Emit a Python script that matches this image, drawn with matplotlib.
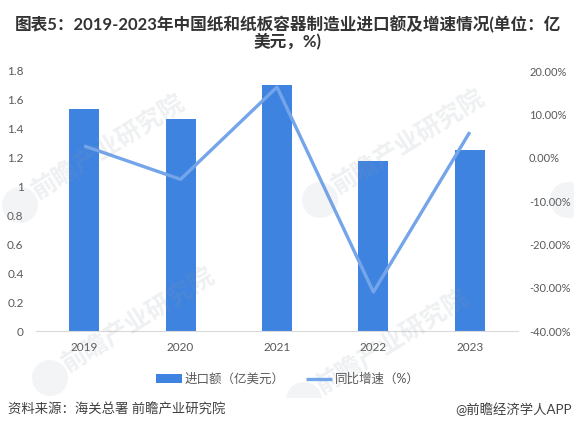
import matplotlib
matplotlib.use("Agg")
import matplotlib.pyplot as plt
from matplotlib.patches import Circle, Rectangle
from matplotlib.transforms import IdentityTransform

plt.rcParams['font.family'] = ['Lato', 'Noto Sans CJK SC', 'DejaVu Sans']

years = ["2019", "2020", "2021", "2022", "2023"]
imports = [1.54, 1.47, 1.70, 1.18, 1.25]
growth = [2.7, -5.0, 16.3, -31.0, 5.9]
left_ticks = [0, 0.2, 0.4, 0.6, 0.8, 1, 1.2, 1.4, 1.6, 1.8]
right_ticks = [-40, -30, -20, -10, 0, 10, 20]

W, H = 574, 430
fig = plt.figure(figsize=(W/100, H/100), dpi=100)
ax = fig.add_axes([36/W, 1-331/H, 482/W, 260/H])
ax2 = ax.twinx()

bars = ax.bar(years, imports, width=0.31, color="#3f83e0", label="进口额（亿美元）")
line, = ax2.plot(years, growth, color="#74a5ea", lw=2.4, label="同比增速（%）", solid_capstyle="butt")

ax.set_xlim(-0.5, 4.5)
ax.set_ylim(0, 1.8)
ax2.set_ylim(-40, 20)
ax.set_yticks(left_ticks)
ax.set_yticklabels([str(t) for t in left_ticks])
ax2.set_yticks(right_ticks)
ax2.set_yticklabels(["%.2f%%" % t for t in right_ticks])

for a in (ax, ax2):
    for s in ("top", "left", "right"):
        a.spines[s].set_visible(False)
    a.spines["bottom"].set_color("#d9d9d9")
ax2.spines["bottom"].set_visible(False)
ax.tick_params(axis="x", length=0, labelsize=8.5, labelcolor="#595959", pad=8)
ax.tick_params(axis="y", length=0, labelsize=8.5, labelcolor="#595959", pad=9)
ax2.tick_params(axis="y", length=0, labelsize=8, labelcolor="#595959", pad=8)

fig.legend(handles=[bars, line], loc="center", bbox_to_anchor=(288/W, 1-379/H), ncol=2,
           frameon=False, fontsize=9, labelcolor="#595959", columnspacing=1.7,
           handlelength=2.1, handletextpad=0.2)

fig.text(287.5/W, 1-24/H, "图表5：2019-2023年中国纸和纸板容器制造业进口额及增速情况(单位：亿",
         ha="center", va="center", fontsize=12, fontweight="bold", color="#333333")
fig.text(287.5/W, 1-41/H, "美元，%)", ha="center", va="center", fontsize=12,
         fontweight="bold", color="#333333")

# watermarks sit over the chart, logo dot then rotated name
for mx, my in [(20, 205), (320, 200), (50, 378), (304, 400)]:
    fig.text((mx+14)/W, 1-(my-12)/H, "前瞻产业研究院", rotation=32, rotation_mode="anchor",
             ha="left", va="center", fontsize=18, fontweight="bold", color="#8c9aa8",
             alpha=0.15, zorder=5)
    fig.add_artist(Circle((mx, H-my), 18, transform=IdentityTransform(), color="#8c9aa8",
                          alpha=0.1, lw=0, zorder=5))
# last logo at the right edge, its name runs off the picture
fig.add_artist(Circle((568, H-200), 18, transform=IdentityTransform(), color="#8c9aa8",
                      alpha=0.1, lw=0, zorder=5))

# footer strip hides the bottom of the watermarks
fig.add_artist(Rectangle((0, 0), 1, 1-398/H, transform=fig.transFigure, color="white", lw=0, zorder=6))
fig.text(8/W, 1-409/H, "资料来源：海关总署 前瞻产业研究院", ha="left", va="center",
         fontsize=9.6, color="#404040", zorder=7)
fig.text(572/W, 1-409/H, "@前瞻经济学人APP", ha="right", va="center",
         fontsize=9.6, color="#404040", zorder=7)

fig.savefig("out.png", dpi=100)
